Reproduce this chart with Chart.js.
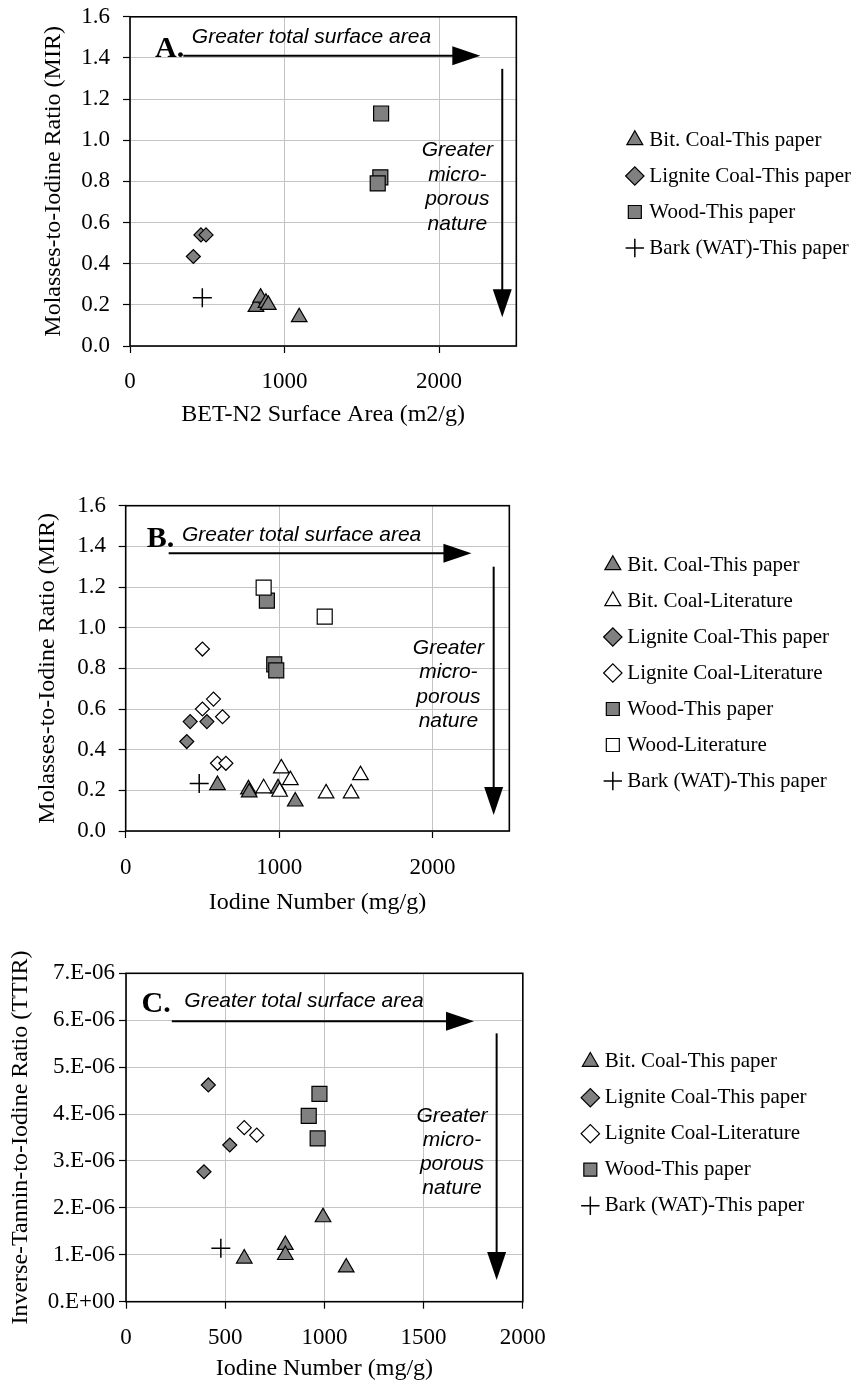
<!DOCTYPE html>
<html>
<head>
<meta charset="utf-8">
<title>Molasses / tannin to iodine ratios</title>
<script src="https://cdn.jsdelivr.net/npm/chart.js@4.4.1/dist/chart.umd.min.js"></script>
<style>
  html, body { margin: 0; padding: 0; background: #fff; overflow: hidden; }
  body { width: 858px; height: 1388px; position: relative; }
  .panel { position: absolute; left: 0; width: 880px; }
</style>
</head>
<body>
<div class="panel" style="top:-10px;height:440px"><canvas id="chart-a"></canvas></div>
<div class="panel" style="top:430px;height:500px"><canvas id="chart-b"></canvas></div>
<div class="panel" style="top:930px;height:458px"><canvas id="chart-c"></canvas></div>
<script>
// Panel A: MIR vs BET-N2 surface area
const aBitX = [815, 845, 880, 895, 1095];
const aBitY = [0.19, 0.235, 0.21, 0.20, 0.14];
const aLigX = [410, 459, 492];
const aLigY = [0.435, 0.54, 0.54];
const aWoodX = [1625, 1620, 1603];
const aWoodY = [1.13, 0.82, 0.79];
const aBarkX = [468];
const aBarkY = [0.235];

// Panel B: MIR vs iodine number
const bBitX = [598, 800, 805, 993, 1105];
const bBitY = [0.226, 0.205, 0.19, 0.21, 0.145];
const bBitLitX = [899, 1003, 1014, 1073, 1306, 1469, 1530];
const bBitLitY = [0.21, 0.193, 0.308, 0.25, 0.185, 0.185, 0.275];
const bLigX = [398, 420, 529];
const bLigY = [0.44, 0.538, 0.538];
const bLigLitX = [500, 572, 500, 631, 598, 653];
const bLigLitY = [0.895, 0.649, 0.60, 0.562, 0.333, 0.333];
const bWoodX = [920, 968, 981];
const bWoodY = [1.133, 0.82, 0.79];
const bWoodLitX = [899, 1297];
const bWoodLitY = [1.197, 1.054];
const bBarkX = [479];
const bBarkY = [0.234];

// Panel C: TTIR vs iodine number
const cBitX = [596, 803, 803, 993, 1110];
const cBitY = [0.92e-6, 1.21e-6, 0.995e-6, 1.80e-6, 0.73e-6];
const cLigX = [393, 415, 523];
const cLigY = [2.77e-6, 4.62e-6, 3.34e-6];
const cLigLitX = [596, 659];
const cLigLitY = [3.71e-6, 3.55e-6];
const cWoodX = [921, 966, 975];
const cWoodY = [3.96e-6, 3.48e-6, 4.43e-6];
const cBarkX = [478];
const cBarkY = [1.137e-6];

// tick values
const abXTicks = [0, 1000, 2000];
const mirTicks = [0, 0.2, 0.4, 0.6, 0.8, 1.0, 1.2, 1.4, 1.6];
const cXTicks = [0, 500, 1000, 1500, 2000];
const ttirTicks = [0, 1e-6, 2e-6, 3e-6, 4e-6, 5e-6, 6e-6, 7e-6];

const micLines = ['Greater', 'micro-', 'porous', 'nature'];

const SERIF = '"Liberation Serif", "Times New Roman", serif';
const SANS = '"Liberation Sans", Arial, sans-serif';
const GRAY = '#808080';
const GRID = '#c4c4c4';

const styles = {
    bit:     { pointStyle: 'triangle', pointRadius: 9, backgroundColor: GRAY, borderColor: '#000', borderWidth: 1.2, order: 2 },
    bitLit:  { pointStyle: 'triangle', pointRadius: 9, backgroundColor: '#fff', borderColor: '#000', borderWidth: 1.2, order: 1 },
    lig:     { pointStyle: 'rectRot', pointRadius: 7, backgroundColor: GRAY, borderColor: '#000', borderWidth: 1.2, order: 2 },
    ligLit:  { pointStyle: 'rectRot', pointRadius: 7, backgroundColor: '#fff', borderColor: '#000', borderWidth: 1.2, order: 1 },
    wood:    { pointStyle: 'rect', pointRadius: 10.6, backgroundColor: GRAY, borderColor: '#000', borderWidth: 1.2, order: 2 },
    woodLit: { pointStyle: 'rect', pointRadius: 10.6, backgroundColor: '#fff', borderColor: '#000', borderWidth: 1.2, order: 1 },
    bark:    { pointStyle: 'cross', pointRadius: 9.5, backgroundColor: '#000', borderColor: '#000', borderWidth: 1.5, order: 0 }
};

function series(label, xs, ys, style) {
    return Object.assign({
        label,
        data: xs.map((x, i) => ({ x, y: ys[i] })),
        pointHoverRadius: style.pointRadius
    }, style);
}

// frame, arrows and the text notes inside each plot
const panelNotes = {
    id: 'panelNotes',
    beforeDatasetsDraw(chart) {
        const { ctx, chartArea: a } = chart;
        ctx.save();
        ctx.strokeStyle = '#000';
        ctx.lineWidth = 1.6;
        ctx.strokeRect(a.left, a.top, a.right - a.left, a.bottom - a.top);
        ctx.restore();
    },
    afterDatasetsDraw(chart, args, o) {
        const { ctx, scales: { x, y } } = chart;
        const px = v => x.getPixelForValue(v);
        const py = v => y.getPixelForValue(v);
        ctx.save();
        ctx.fillStyle = '#000';
        ctx.strokeStyle = '#000';
        ctx.lineWidth = 2;

        // horizontal arrow
        const hy = py(o.hArrow.y), hx0 = px(o.hArrow.x0), hx1 = px(o.hArrow.x1);
        ctx.beginPath();
        ctx.moveTo(hx0, hy);
        ctx.lineTo(hx1 - 20, hy);
        ctx.stroke();
        ctx.beginPath();
        ctx.moveTo(hx1, hy);
        ctx.lineTo(hx1 - 28, hy - 9.5);
        ctx.lineTo(hx1 - 28, hy + 9.5);
        ctx.closePath();
        ctx.fill();

        // vertical arrow
        const vx = px(o.vArrow.x), vy0 = py(o.vArrow.y0), vy1 = py(o.vArrow.y1);
        ctx.beginPath();
        ctx.moveTo(vx, vy0);
        ctx.lineTo(vx, vy1 - 20);
        ctx.stroke();
        ctx.beginPath();
        ctx.moveTo(vx, vy1);
        ctx.lineTo(vx - 9.5, vy1 - 28);
        ctx.lineTo(vx + 9.5, vy1 - 28);
        ctx.closePath();
        ctx.fill();

        // panel letter
        ctx.font = 'bold 30px ' + SERIF;
        ctx.textAlign = 'left';
        ctx.textBaseline = 'alphabetic';
        ctx.fillText(o.letter, px(o.letterAt[0]), py(o.letterAt[1]));

        // notes
        ctx.font = 'italic 21px ' + SANS;
        ctx.textBaseline = 'middle';
        ctx.fillText('Greater total surface area', px(o.topAt[0]), py(o.topAt[1]));
        ctx.textAlign = 'center';
        const sx = px(o.sideAt[0]), sy = py(o.sideAt[1]);
        micLines.forEach((line, i) => ctx.fillText(line, sx, sy + i * o.sideGap));
        ctx.restore();
    }
};

function makePanel(id, datasets, p) {
    return new Chart(document.getElementById(id), {
        type: 'scatter',
        data: { datasets },
        options: {
            responsive: true,
            maintainAspectRatio: false,
            animation: false,
            events: [],
            layout: { padding: { top: p.top, right: p.padRight, bottom: 0, left: 0 } },
            scales: {
                x: {
                    type: 'linear',
                    min: 0,
                    max: p.xMax,
                    border: { display: false },
                    grid: { color: GRID, lineWidth: 1, tickColor: '#000', tickLength: 7, tickWidth: 1.2 },
                    afterBuildTicks: s => { s.ticks = p.xTicks.map(value => ({ value })); },
                    ticks: {
                        maxRotation: 0, autoSkip: false, padding: p.xTickPad, color: '#000',
                        font: { family: SERIF, size: 23 }, callback: v => String(v)
                    },
                    title: {
                        display: true, text: p.xTitle, color: '#000',
                        font: { family: SERIF, size: 24 }, padding: { top: 0, bottom: p.xTitlePad }
                    },
                    afterFit: s => { s.height = p.xAxisH; }
                },
                y: {
                    type: 'linear',
                    min: 0,
                    max: p.yMax,
                    border: { display: false },
                    grid: { color: GRID, lineWidth: 1, tickColor: '#000', tickLength: 7, tickWidth: 1.2 },
                    afterBuildTicks: s => { s.ticks = p.yTicks.map(value => ({ value })); },
                    ticks: {
                        autoSkip: false, padding: p.yTickPad, color: '#000',
                        font: { family: SERIF, size: 23 }, callback: p.yFormat
                    },
                    title: {
                        display: true, text: p.yTitle, color: '#000',
                        font: { family: SERIF, size: 24 }, padding: { top: p.yTitlePad, bottom: 0 }
                    },
                    afterFit: s => { s.width = p.yAxisW; }
                },
                gap: {
                    type: 'linear',
                    position: 'right',
                    grid: { display: false },
                    border: { display: false },
                    ticks: { display: false },
                    afterFit: s => { s.width = p.gap; }
                }
            },
            plugins: {
                legend: {
                    position: 'right',
                    align: 'start',
                    maxWidth: 400,
                    title: { display: true, text: ' ', font: { size: 10, lineHeight: 1 }, padding: { top: p.legendTop, bottom: 0 } },
                    labels: {
                        usePointStyle: true, boxWidth: 8, boxHeight: 13, padding: 15, color: '#000',
                        font: { family: SERIF, size: 21 },
                        sort: (a, b) => a.datasetIndex - b.datasetIndex
                    }
                },
                tooltip: { enabled: false },
                panelNotes: p.notes
            }
        },
        plugins: [panelNotes]
    });
}

const oneDecimal = v => v.toFixed(1);
const sciLabel = v => v === 0 ? '0.E+00' : Math.round(v * 1e6) + '.E-06';

makePanel('chart-a', [
    series('Bit. Coal-This paper', aBitX, aBitY, styles.bit),
    series('Lignite Coal-This paper', aLigX, aLigY, styles.lig),
    series('Wood-This paper', aWoodX, aWoodY, styles.wood),
    series('Bark (WAT)-This paper', aBarkX, aBarkY, styles.bark)
], {
    top: 26, padRight: 18.9, gap: 99.5, legendTop: 88.5,
    xMax: 2500, yMax: 1.6, xTicks: abXTicks, yTicks: mirTicks, yFormat: oneDecimal,
    xTitle: 'BET-N2 Surface Area (m2/g)', yTitle: 'Molasses-to-Iodine Ratio (MIR)',
    xAxisH: 84, xTickPad: 15, xTitlePad: 1,
    yAxisW: 130, yTickPad: 13, yTitlePad: 39.6,
    notes: {
        letter: 'A.', letterAt: [162, 1.405], topAt: [400, 1.502],
        hArrow: { y: 1.411, x0: 345, x1: 2267 },
        vArrow: { x: 2409, y0: 1.347, y1: 0.14 },
        sideAt: [2118, 0.95], sideGap: 24.5
    }
});

makePanel('chart-b', [
    series('Bit. Coal-This paper', bBitX, bBitY, styles.bit),
    series('Bit. Coal-Literature', bBitLitX, bBitLitY, styles.bitLit),
    series('Lignite Coal-This paper', bLigX, bLigY, styles.lig),
    series('Lignite Coal-Literature', bLigLitX, bLigLitY, styles.ligLit),
    series('Wood-This paper', bWoodX, bWoodY, styles.wood),
    series('Wood-Literature', bWoodLitX, bWoodLitY, styles.woodLit),
    series('Bark (WAT)-This paper', bBarkX, bBarkY, styles.bark)
], {
    top: 75.7, padRight: 40.9, gap: 84.5, legendTop: 23.8,
    xMax: 2500, yMax: 1.6, xTicks: abXTicks, yTicks: mirTicks, yFormat: oneDecimal,
    xTitle: 'Iodine Number (mg/g)', yTitle: 'Molasses-to-Iodine Ratio (MIR)',
    xAxisH: 99, xTickPad: 16.5, xTitlePad: 12.9,
    yAxisW: 125.7, yTickPad: 12.7, yTitlePad: 33.6,
    notes: {
        letter: 'B.', letterAt: [137, 1.395], topAt: [367, 1.456],
        hArrow: { y: 1.366, x0: 280, x1: 2253 },
        vArrow: { x: 2398, y0: 1.30, y1: 0.079 },
        sideAt: [2103, 0.90], sideGap: 24.5
    }
});

makePanel('chart-c', [
    series('Bit. Coal-This paper', cBitX, cBitY, styles.bit),
    series('Lignite Coal-This paper', cLigX, cLigY, styles.lig),
    series('Lignite Coal-Literature', cLigLitX, cLigLitY, styles.ligLit),
    series('Wood-This paper', cWoodX, cWoodY, styles.wood),
    series('Bark (WAT)-This paper', cBarkX, cBarkY, styles.bark)
], {
    top: 43.3, padRight: 63.4, gap: 48.5, legendTop: 52.9,
    xMax: 2000, yMax: 7e-6, xTicks: cXTicks, yTicks: ttirTicks, yFormat: sciLabel,
    xTitle: 'Iodine Number (mg/g)', yTitle: 'Inverse-Tannin-to-Iodine Ratio (TTIR)',
    xAxisH: 86.3, xTickPad: 15.8, xTitlePad: 5.3,
    yAxisW: 126, yTickPad: 4, yTitlePad: 6.6,
    notes: {
        letter: 'C.', letterAt: [78, 6.18e-6], topAt: [294, 6.40e-6],
        hArrow: { y: 5.98e-6, x0: 231, x1: 1754 },
        vArrow: { x: 1868, y0: 5.72e-6, y1: 0.46e-6 },
        sideAt: [1643, 3.96e-6], sideGap: 24
    }
});
</script>
</body>
</html>
